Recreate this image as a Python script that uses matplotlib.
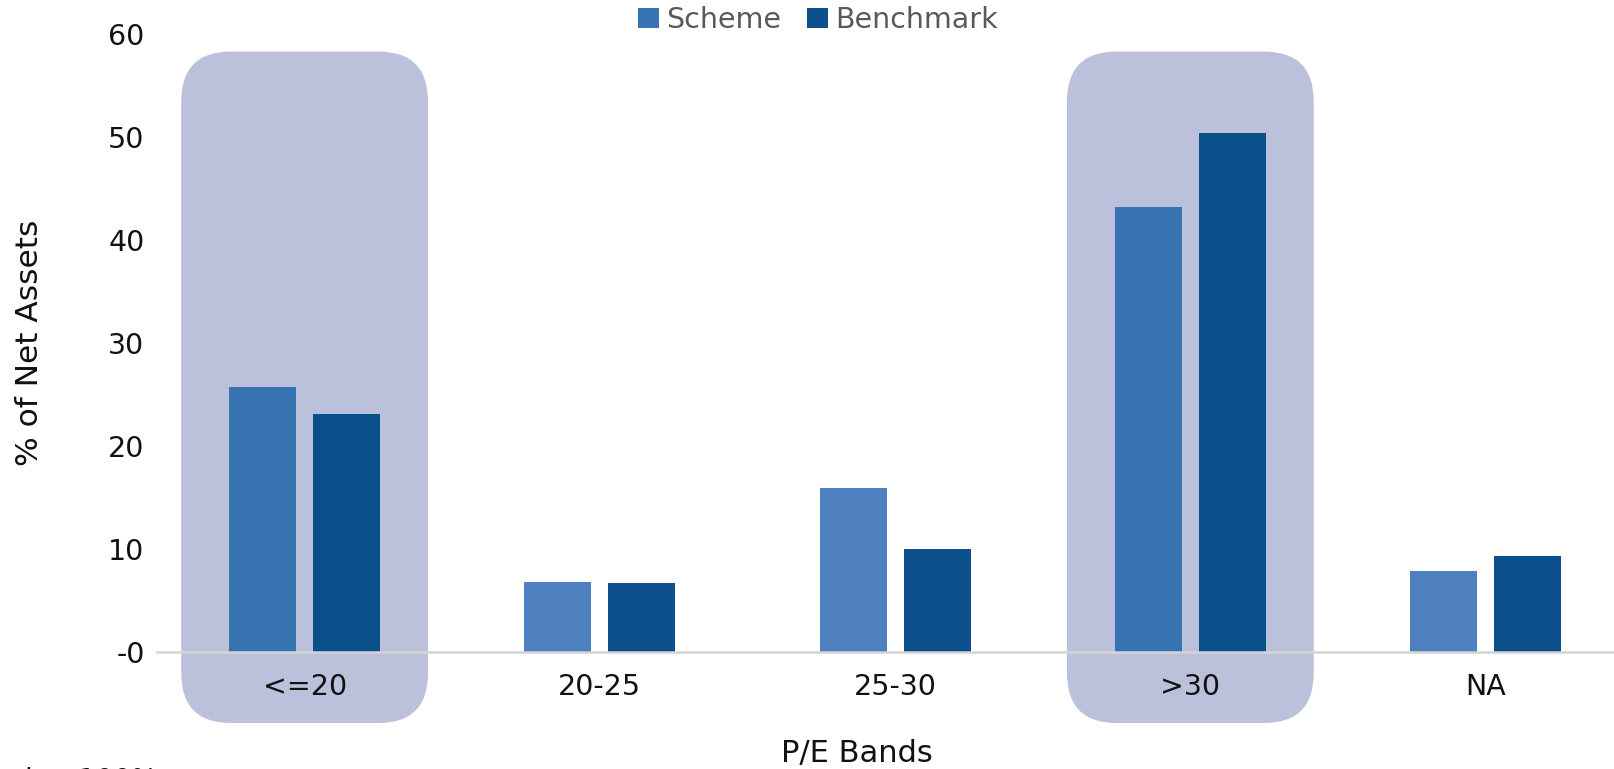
import matplotlib
matplotlib.use("Agg")
import matplotlib.pyplot as plt
from matplotlib.patches import FancyBboxPatch
import numpy as np

categories = ["<=20", "20-25", "25-30", ">30", "NA"]
scheme = [25.7, 6.8, 15.9, 43.2, 7.9]
benchmark = [23.1, 6.7, 10.0, 50.4, 9.3]
highlighted = [0, 3]
yticks = [0, 10, 20, 30, 40, 50, 60]
ytick_labels = ["-0", "10", "20", "30", "40", "50", "60"]

W, H = 1614, 769
fig = plt.figure(figsize=(W / 100, H / 100), dpi=100)
fig.patch.set_facecolor("white")

ax = fig.add_axes([157 / W, 1 - 652 / H, 1 - 157 / W, (652 - 34) / H])
ax.set_facecolor("none")
ax.set_zorder(2)

x = np.arange(len(categories))
bw = 0.227
off = 0.142
scheme_cols = ["#3673B0" if i in highlighted else "#4E80BF" for i in range(len(categories))]
ax.bar(x - off, scheme, width=bw, color=scheme_cols, label="Scheme", zorder=3)
ax.bar(x + off, benchmark, width=bw, color="#0B508B", label="Benchmark", zorder=3)

ax.set_xlim(-0.5, 4.435)
ax.set_ylim(0, 60)
ax.set_yticks(yticks)
ax.set_yticklabels(ytick_labels)
ax.set_xticks(x)
ax.set_xticklabels(categories)
ax.tick_params(axis="both", length=0, labelsize=20.5, colors="#111111")
ax.tick_params(axis="x", pad=15)
ax.tick_params(axis="y", pad=9)
for s in ["top", "right", "left"]:
    ax.spines[s].set_visible(False)
ax.spines["bottom"].set_color("#D4D4D4")
ax.spines["bottom"].set_linewidth(1.8)
ax.spines["bottom"].set_zorder(4)

ax.set_ylabel("% of Net Assets", fontsize=22.5, color="#111111")
ax.yaxis.set_label_coords((44 - 157) / (W - 157), 0.5)
ax.set_xlabel("P/E Bands", fontsize=22, color="#111111")
ax.xaxis.set_label_coords((857 - 157) / (W - 157), -(739 - 652) / (652 - 34))

# Highlight boxes behind the selected categories
fig.canvas.draw()
inv = fig.transFigure.inverted()
box_top, box_bot, half_w = 58.3, -6.9, 0.418
r_px = 50
for i in highlighted:
    (x0, y0) = inv.transform(ax.transData.transform((i - half_w, box_bot)))
    (x1, y1) = inv.transform(ax.transData.transform((i + half_w, box_top)))
    p = FancyBboxPatch((x0, y0), x1 - x0, y1 - y0,
                       boxstyle=f"round,pad=0,rounding_size={r_px / W}",
                       mutation_aspect=W / H,
                       transform=fig.transFigure, facecolor="#BCC1DB",
                       edgecolor="none", zorder=0)
    fig.patches.append(p)

leg = fig.legend(loc="center", bbox_to_anchor=(818 / W, 1 - 20 / H), ncol=2,
                 frameon=False, handlelength=0.75, handleheight=0.75,
                 handletextpad=0.25, columnspacing=0.9,
                 prop={"family": ["Liberation Sans Narrow", "DejaVu Sans"], "size": 20.5})
for t in leg.get_texts():
    t.set_color("#595959")

fig.text(15 / W, -20 / H, "d to 100%", fontsize=20, color="#111111", va="baseline", ha="left")

fig.savefig("out.png", dpi=100)
